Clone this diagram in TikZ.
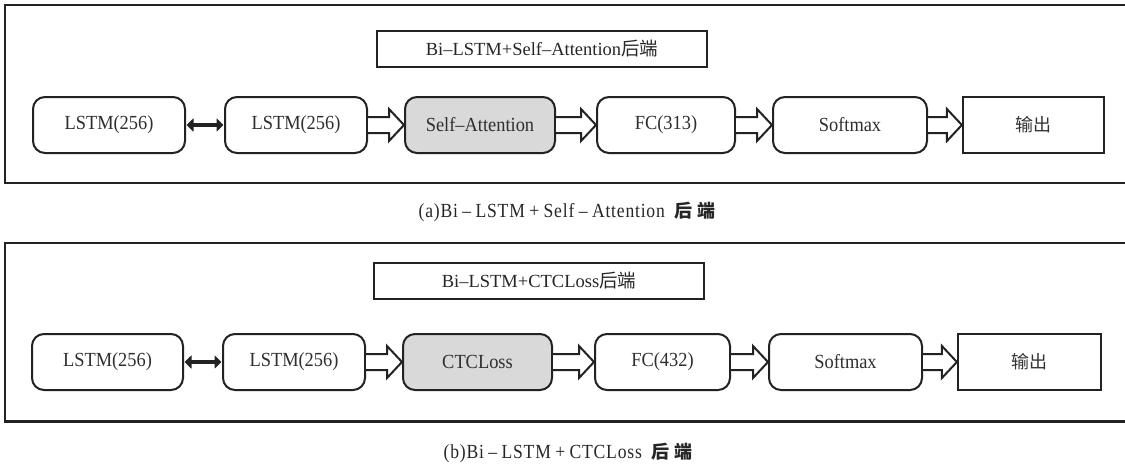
\documentclass[tikz,border=0pt]{standalone}
\usepackage{fontspec}
\setmainfont{Liberation Serif}
\newfontfamily\cjk{Noto Sans CJK SC}
\newfontfamily\nodefont[FakeStretch=0.92]{Liberation Serif}
\newfontfamily\capfont[FakeStretch=0.88,LetterSpace=4]{Liberation Serif}
\usetikzlibrary{calc,arrows.meta}
\definecolor{boxgray}{HTML}{D9D9D9}
\definecolor{ink}{HTML}{222222}
\newcommand\op[1]{\hspace{0.22em}#1\hspace{0.22em}}
\tikzset{
  frame/.style={draw=ink,line width=2.4pt},
  rbox/.style={draw=ink,line width=2pt,rounded corners=12pt,minimum height=56pt,font=\fontsize{20}{22}\nodefont,text=black!82,inner sep=0pt},
  gbox/.style={rbox,fill=boxgray},
  obox/.style={draw=ink,line width=2.2pt,minimum height=56pt,font=\fontsize{18}{20}\cjk,text=black!80,inner sep=0pt},
  tbox/.style={draw=ink,line width=2pt,minimum height=36pt,font=\fontsize{18.5}{20}\selectfont,text=black!85,inner sep=0pt},
  captext/.style={font=\fontsize{20}{22}\capfont,text=black!85,inner sep=0pt},
  harrow/.style={draw=ink,line width=2pt,fill=white,line join=miter},
  biarrow/.style={draw=ink,line width=3.2pt,{Triangle[length=7pt,width=13pt]}-{Triangle[length=7pt,width=13pt]},shorten <=0.5pt,shorten >=0.5pt}
}
\newcommand\hollowarrow[2]{%
  \draw[harrow] let \p1=(#1.east), \p2=(#2.west) in
    (\x1,\y1+8pt) -- (\x2-15pt,\y1+8pt) -- (\x2-15pt,\y1+16pt) -- (\x2,\y1)
    -- (\x2-15pt,\y1-16pt) -- (\x2-15pt,\y1-8pt) -- (\x1,\y1-8pt);}
\begin{document}
\begin{tikzpicture}[x=1pt,y=-1pt]
\useasboundingbox (0,0) rectangle (1125,467);
% ---------- panel (a)
\draw[frame] (1130,5) -- (5,5) -- (5,183) -- (1130,183);
\node[tbox,minimum width=330pt] (ta) at (542,48.5) {Bi\textendash LSTM+Self\textendash Attention{\cjk 后端}};
\node[rbox,minimum width=152pt] (a1) at (109,125) {LSTM(256)};
\node[rbox,minimum width=142pt] (a2) at (296,125) {LSTM(256)};
\node[gbox,minimum width=150pt] (a3) at (480,125) {Self\textendash Attention};
\node[rbox,minimum width=138pt] (a4) at (666,125) {FC(313)};
\node[rbox,minimum width=154pt] (a5) at (850,125) {Softmax};
\node[obox,minimum width=141pt] (a6) at (1033.5,125) {输出};
\draw[biarrow] (a1.east) -- (a2.west);
\hollowarrow{a2}{a3}
\hollowarrow{a3}{a4}
\hollowarrow{a4}{a5}
\hollowarrow{a5}{a6}
\node[captext] (ca) at (567,212) {(a)Bi\op{\textendash}LSTM\op{+}Self\op{\textendash}Attention\hspace{0.5em}{\cjk\bfseries\fontsize{18}{20}\selectfont 后\hspace{0.25em}端}};
% ---------- panel (b)
\draw[frame] (1130,243) -- (5,243) -- (5,421.5) -- (1130,421.5);
\node[tbox,minimum width=330pt] (tb) at (539,280.5) {Bi\textendash LSTM+CTCLoss{\cjk 后端}};
\node[rbox,minimum width=151pt] (b1) at (107.5,362) {LSTM(256)};
\node[rbox,minimum width=142pt] (b2) at (294,362) {LSTM(256)};
\node[gbox,minimum width=149pt] (b3) at (477.5,362) {CTCLoss};
\node[rbox,minimum width=135pt] (b4) at (662.5,362) {FC(432)};
\node[rbox,minimum width=153pt] (b5) at (845.5,362) {Softmax};
\node[obox,minimum width=143pt] (b6) at (1029.5,362) {输出};
\draw[biarrow] (b1.east) -- (b2.west);
\hollowarrow{b2}{b3}
\hollowarrow{b3}{b4}
\hollowarrow{b4}{b5}
\hollowarrow{b5}{b6}
\node[captext] (cb) at (568,453) {(b)Bi\op{\textendash}LSTM\op{+}CTCLoss\hspace{0.5em}{\cjk\bfseries\fontsize{18}{20}\selectfont 后\hspace{0.25em}端}};
\end{tikzpicture}
\end{document}
